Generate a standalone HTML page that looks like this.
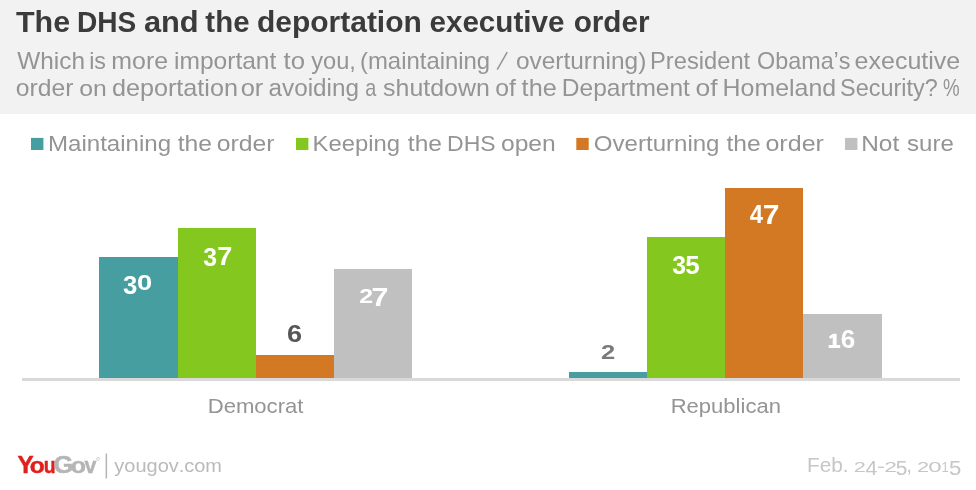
<!DOCTYPE html>
<html>
<head>
<meta charset="utf-8">
<title>The DHS and the deportation executive order</title>
<style>
  html, body { margin: 0; padding: 0; background: #ffffff; }
  body { width: 976px; height: 490px; overflow: hidden; }
  svg { display: block; will-change: transform; }
  svg text { font-family: "Liberation Sans", sans-serif; font-kerning: none; white-space: pre; }
</style>
</head>
<body>
  <svg width="976" height="490" viewBox="0 0 976 490">
    <rect x="0" y="0" width="976" height="114" fill="#f2f2f2"/>
    <text transform="translate(15.96 32.40) scale(1.0159 1)" font-size="30" fill="#3b3b3b" font-weight="bold">The</text>
    <text transform="translate(76.92 32.40) scale(0.9358 1)" font-size="30" fill="#3b3b3b" font-weight="bold">DHS</text>
    <text transform="translate(143.90 32.40) scale(1.0282 1)" font-size="30" fill="#3b3b3b" font-weight="bold">and</text>
    <text transform="translate(205.34 32.40) scale(0.9815 1)" font-size="30" fill="#3b3b3b" font-weight="bold">the</text>
    <text transform="translate(256.97 32.40) scale(0.9994 1)" font-size="30" fill="#3b3b3b" font-weight="bold">deportation</text>
    <text transform="translate(429.44 32.40) scale(0.9877 1)" font-size="30" fill="#3b3b3b" font-weight="bold">executive</text>
    <text transform="translate(573.64 32.40) scale(0.9912 1)" font-size="30" fill="#3b3b3b" font-weight="bold">order</text>
    <text transform="translate(17.29 68.50) scale(1.0593 1)" font-size="23" fill="#949494">Which</text>
    <text transform="translate(89.14 68.50) scale(1.0112 1)" font-size="23" fill="#949494">is</text>
    <text transform="translate(111.35 68.50) scale(1.0832 1)" font-size="23" fill="#949494">more</text>
    <text transform="translate(174.06 68.50) scale(1.0672 1)" font-size="23" fill="#949494">important</text>
    <text transform="translate(283.61 68.50) scale(1.1193 1)" font-size="23" fill="#949494">to</text>
    <text transform="translate(311.24 68.50) scale(1.0278 1)" font-size="23" fill="#949494">you,</text>
    <text transform="translate(360.02 68.50) scale(1.0394 1)" font-size="23" fill="#949494">(maintaining</text>
    <text transform="translate(515.97 68.50) scale(1.0629 1)" font-size="23" fill="#949494">overturning)</text>
    <text transform="translate(650.06 68.50) scale(1.0304 1)" font-size="23" fill="#949494">President</text>
    <text transform="translate(757.09 68.50) scale(1.0154 1)" font-size="23" fill="#949494">Obama’s</text>
    <text transform="translate(854.54 68.50) scale(1.0886 1)" font-size="23" fill="#949494">executive</text>
    <line x1="497.2" y1="69.7" x2="507.2" y2="52.1" stroke="#949494" stroke-width="1.5"/>
    <text transform="translate(15.86 95.70) scale(1.0736 1)" font-size="23" fill="#949494">order</text>
    <text transform="translate(79.16 95.70) scale(1.0768 1)" font-size="23" fill="#949494">on</text>
    <text transform="translate(111.94 95.70) scale(1.0956 1)" font-size="23" fill="#949494">deportation</text>
    <text transform="translate(240.73 95.70) scale(1.1045 1)" font-size="23" fill="#949494">or</text>
    <text transform="translate(268.57 95.70) scale(1.0563 1)" font-size="23" fill="#949494">avoiding</text>
    <text transform="translate(365.16 95.70) scale(0.8633 1)" font-size="23" fill="#949494">a</text>
    <text transform="translate(383.11 95.70) scale(1.0838 1)" font-size="23" fill="#949494">shutdown</text>
    <text transform="translate(495.16 95.70) scale(1.0795 1)" font-size="23" fill="#949494">of</text>
    <text transform="translate(521.62 95.70) scale(1.0979 1)" font-size="23" fill="#949494">the</text>
    <text transform="translate(561.79 95.70) scale(1.0668 1)" font-size="23" fill="#949494">Department</text>
    <text transform="translate(695.59 95.70) scale(1.1507 1)" font-size="23" fill="#949494">of</text>
    <text transform="translate(722.55 95.70) scale(1.0841 1)" font-size="23" fill="#949494">Homeland</text>
    <text transform="translate(840.03 95.70) scale(1.0205 1)" font-size="23" fill="#949494">Security?</text>
    <text transform="translate(942.93 95.70) scale(0.8134 1)" font-size="23" fill="#949494">%</text>
    <rect x="31" y="137.9" width="12.4" height="12.1" fill="#479ea0"/>
    <rect x="296" y="137.9" width="12.4" height="12.1" fill="#84c81f"/>
    <rect x="576.3" y="137.9" width="12.4" height="12.1" fill="#d37924"/>
    <rect x="845" y="137.9" width="12.4" height="12.1" fill="#c0c0c0"/>
    <text transform="translate(48.03 150.50) scale(1.0691 1)" font-size="22.5" fill="#949494">Maintaining</text>
    <text transform="translate(177.63 150.50) scale(1.0989 1)" font-size="22.5" fill="#949494">the</text>
    <text transform="translate(216.66 150.50) scale(1.0995 1)" font-size="22.5" fill="#949494">order</text>
    <text transform="translate(312.54 150.50) scale(1.0596 1)" font-size="22.5" fill="#949494">Keeping</text>
    <text transform="translate(407.83 150.50) scale(1.0923 1)" font-size="22.5" fill="#949494">the</text>
    <text transform="translate(447.01 150.50) scale(1.0241 1)" font-size="22.5" fill="#949494">DHS</text>
    <text transform="translate(500.96 150.50) scale(1.0955 1)" font-size="22.5" fill="#949494">open</text>
    <text transform="translate(593.86 150.50) scale(1.0692 1)" font-size="22.5" fill="#949494">Overturning</text>
    <text transform="translate(726.38 150.50) scale(1.0939 1)" font-size="22.5" fill="#949494">the</text>
    <text transform="translate(765.45 150.50) scale(1.1131 1)" font-size="22.5" fill="#949494">order</text>
    <text transform="translate(861.25 150.50) scale(1.0832 1)" font-size="22.5" fill="#949494">Not</text>
    <text transform="translate(907.08 150.50) scale(1.0678 1)" font-size="22.5" fill="#949494">sure</text>
    <rect x="99" y="257" width="79" height="121" fill="#479ea0"/>
    <rect x="178" y="228" width="78" height="150" fill="#84c81f"/>
    <rect x="256" y="355" width="78" height="23" fill="#d37924"/>
    <rect x="334" y="269" width="78" height="109" fill="#c0c0c0"/>
    <rect x="569" y="372" width="78" height="6" fill="#479ea0"/>
    <rect x="647" y="237" width="78" height="141" fill="#84c81f"/>
    <rect x="725" y="188" width="78" height="190" fill="#d37924"/>
    <rect x="803" y="314" width="79" height="64" fill="#c0c0c0"/>
    <rect x="22" y="378" width="938" height="3" fill="#d9d9d9"/>
    <text transform="translate(123.11 293.72) scale(0.2575 0.2537)" font-size="100" fill="#ffffff" font-weight="bold">3</text>
    <text transform="translate(137.12 289.89) scale(0.2733 0.2189)" font-size="100" fill="#ffffff" font-weight="bold">0</text>
    <text transform="translate(203.13 266.11) scale(0.2474 0.2579)" font-size="100" fill="#ffffff" font-weight="bold">3</text>
    <text transform="translate(217.24 265.20) scale(0.2707 0.2486)" font-size="100" fill="#ffffff" font-weight="bold">7</text>
    <text transform="translate(287.01 341.67) scale(0.2710 0.2387)" font-size="100" fill="#575757" font-weight="bold">6</text>
    <text transform="translate(359.14 302.90) scale(0.2492 0.2048)" font-size="100" fill="#ffffff" font-weight="bold">2</text>
    <text transform="translate(371.49 306.20) scale(0.3047 0.2558)" font-size="100" fill="#ffffff" font-weight="bold">7</text>
    <text transform="translate(600.91 359.10) scale(0.2555 0.2005)" font-size="100" fill="#7a7a7a" font-weight="bold">2</text>
    <text transform="translate(672.13 273.72) scale(0.2474 0.2537)" font-size="100" fill="#ffffff" font-weight="bold">3</text>
    <text transform="translate(685.20 273.75) scale(0.2593 0.2580)" font-size="100" fill="#ffffff" font-weight="bold">5</text>
    <text transform="translate(749.84 223.20) scale(0.2390 0.2500)" font-size="100" fill="#ffffff" font-weight="bold">4</text>
    <text transform="translate(762.71 224.40) scale(0.3005 0.2674)" font-size="100" fill="#ffffff" font-weight="bold">7</text>
    <text transform="translate(840.85 347.96) scale(0.2607 0.2486)" font-size="100" fill="#ffffff" font-weight="bold">6</text>
    <path d="M828.9 336.6 L833.2 333.7 H836.6 V345.1 H840.2 V347.9 H828.7 V345.1 H832.7 V337.6 L830.2 339.1 Z" fill="#ffffff"/>
    <text transform="translate(207.69 412.80) scale(1.0522 1)" font-size="21" fill="#949494">Democrat</text>
    <text transform="translate(670.69 412.80) scale(1.0492 1)" font-size="21" fill="#949494">Republican</text>
    <text transform="translate(17.58 473.00) scale(0.2430 0.2369)" font-size="100" fill="#e0201c" font-weight="bold" stroke="#e0201c" stroke-width="2">Y</text>
    <text transform="translate(29.84 472.98) scale(0.2459 0.2263)" font-size="100" fill="#e0201c" font-weight="bold" stroke="#e0201c" stroke-width="2">o</text>
    <text transform="translate(43.69 472.98) scale(0.1947 0.2267)" font-size="100" fill="#e0201c" font-weight="bold" stroke="#e0201c" stroke-width="2">u</text>
    <text transform="translate(53.55 472.97) scale(0.2549 0.2359)" font-size="100" fill="#b5b5b5" font-weight="bold" stroke="#b5b5b5" stroke-width="2">G</text>
    <text transform="translate(70.72 472.98) scale(0.2497 0.2263)" font-size="100" fill="#b5b5b5" font-weight="bold" stroke="#b5b5b5" stroke-width="2">o</text>
    <text transform="translate(84.42 473.00) scale(0.2136 0.2271)" font-size="100" fill="#b5b5b5" font-weight="bold" stroke="#b5b5b5" stroke-width="2">v</text>
    <circle cx="98.1" cy="458.9" r="1.45" fill="none" stroke="#c2c2c2" stroke-width="0.7"/>
    <rect x="105.6" y="453.5" width="1.5" height="25" fill="#b4b4b4"/>
    <text transform="translate(114.35 472.00) scale(1.0510 1)" font-size="19" fill="#bababa">yougov.com</text>
    <text transform="translate(806.99 472.00) scale(0.9901 1)" font-size="21" fill="#c6c6c6">Feb.</text>
    <text transform="translate(853.81 472.00) scale(0.2173 0.1489)" font-size="100" fill="#c6c6c6">2</text>
    <text transform="translate(865.41 475.00) scale(0.2143 0.1948)" font-size="100" fill="#c6c6c6">4</text>
    <text transform="translate(884.25 472.00) scale(0.2283 0.1489)" font-size="100" fill="#c6c6c6">2</text>
    <text transform="translate(895.86 475.31) scale(0.2088 0.1992)" font-size="100" fill="#c6c6c6">5</text>
    <text transform="translate(917.01 472.00) scale(0.2173 0.1489)" font-size="100" fill="#c6c6c6">2</text>
    <text transform="translate(928.36 472.05) scale(0.2406 0.1525)" font-size="100" fill="#c6c6c6">0</text>
    <text transform="translate(941.51 472.00) scale(0.1299 0.1512)" font-size="100" fill="#c6c6c6">1</text>
    <text transform="translate(948.91 475.31) scale(0.2215 0.1992)" font-size="100" fill="#c6c6c6">5</text>
    <rect x="878" y="466.6" width="6" height="1.3" fill="#c6c6c6"/>
    <text transform="translate(906.46 472.00) scale(0.9219 1)" font-size="21" fill="#c6c6c6">,</text>
  </svg>
</body>
</html>
